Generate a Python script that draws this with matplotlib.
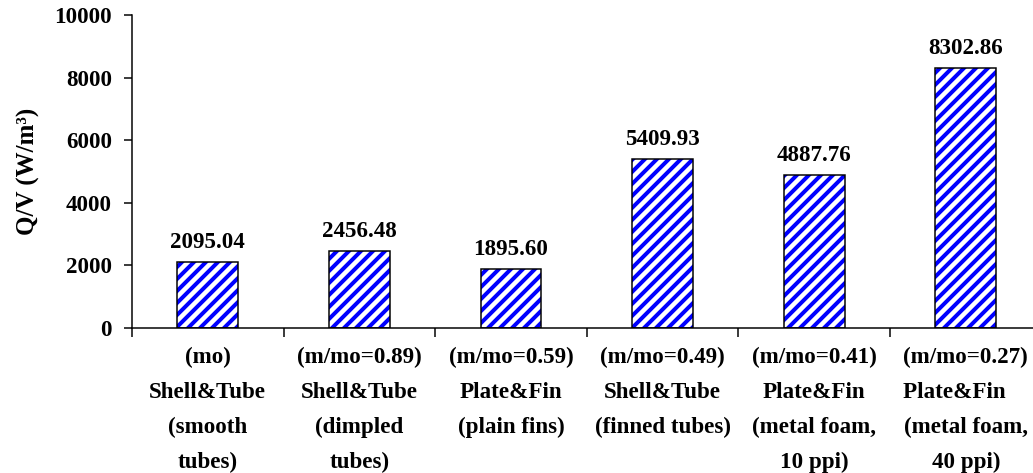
import numpy as np
import matplotlib
matplotlib.use('Agg')
import matplotlib.pyplot as plt

# Heat transfer per unit volume for each exchanger type
categories = [
    '(mo)\nShell&Tube\n(smooth\ntubes)',
    '(m/mo=0.89)\nShell&Tube\n(dimpled\ntubes)',
    '(m/mo=0.59)\nPlate&Fin\n(plain fins)',
    '(m/mo=0.49)\nShell&Tube\n(finned tubes)',
    '(m/mo=0.41)\nPlate&Fin\n(metal foam,\n10 ppi)',
    '(m/mo=0.27)\nPlate&Fin    \n(metal foam,\n40 ppi)',
]
q_per_v = [2095.04, 2456.48, 1895.60, 5409.93, 4887.76, 8302.86]
y_ticks = [0, 2000, 4000, 6000, 8000, 10000]

plt.rcParams['font.family'] = ['Liberation Serif', 'DejaVu Serif']
plt.rcParams['font.weight'] = 'bold'
plt.rcParams['hatch.linewidth'] = 4

DPI = 72
FS = 23
fig = plt.figure(figsize=(1033 / DPI, 473 / DPI), dpi=DPI)
ax = fig.add_axes([132 / 1033, 145 / 473, 909.6 / 1033, 313 / 473])

x = np.arange(len(q_per_v))
# blue stripes first, then a plain black outline on top
ax.bar(x, q_per_v, width=0.4, color='white', edgecolor='#0000ff',
       hatch='//', linewidth=0)
ax.bar(x, q_per_v, width=0.4, color='none', edgecolor='black', linewidth=1.5)

for xi, v in zip(x, q_per_v):
    ax.annotate(f'{v:.2f}', (xi, v), xytext=(0, 9), textcoords='offset points',
                ha='center', va='bottom', fontsize=FS, fontweight='bold')

ax.set_xlim(-0.5, len(q_per_v) - 0.5)
ax.set_ylim(0, 10000)
ax.set_yticks(y_ticks)
ax.set_yticklabels([str(t) for t in y_ticks])

ax.set_xticks(x)
ax.set_xticklabels(categories, linespacing=1.85)
ax.set_xticks(np.arange(len(q_per_v) + 1) - 0.5, minor=True)
ax.tick_params(axis='x', which='major', length=0, pad=19, labelsize=FS)
ax.tick_params(axis='x', which='minor', length=9, width=1.5, direction='out')
ax.tick_params(axis='y', length=8, width=1.5, direction='out', pad=12, labelsize=FS)

for side in ['top', 'right']:
    ax.spines[side].set_visible(False)
for side in ['left', 'bottom']:
    ax.spines[side].set_linewidth(1.5)

ax.set_ylabel('Q/V (W/m³)', fontsize=25, fontweight='bold', labelpad=14)

fig.savefig('out.png', dpi=DPI)
